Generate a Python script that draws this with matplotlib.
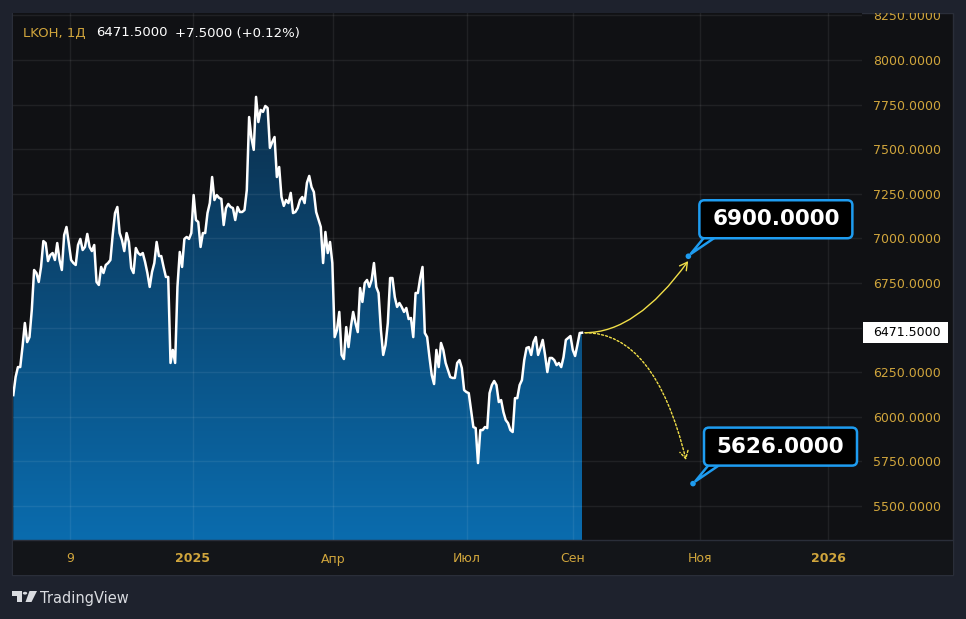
import numpy as np
import matplotlib
matplotlib.use('Agg')
import matplotlib.pyplot as plt
import matplotlib.transforms as mtransforms
from matplotlib.patches import FancyBboxPatch, FancyArrowPatch, Polygon, Rectangle, Circle
from matplotlib.lines import Line2D
from matplotlib.path import Path
from matplotlib.colors import LinearSegmentedColormap

# Дневные закрытия LKOH
prices = [
    6122, 6223, 6279, 6279, 6395, 6526, 6419, 6447, 6599, 6823,
    6806, 6756, 6840, 6985, 6974, 6873, 6907, 6918, 6879, 6974,
    6879, 6823, 7019, 7064, 6974, 6879, 6862, 6851, 6963, 6997,
    6935, 6952, 7025, 6952, 6929, 6963, 6756, 6739, 6840, 6806,
    6851, 6862, 6879, 7020, 7142, 7176, 7030, 6991, 6929, 7030,
    6980, 6834, 6806, 6946, 6918, 6907, 6918, 6868, 6806, 6728,
    6812, 6862, 6980, 6901, 6901, 6840, 6784, 6784, 6302, 6375,
    6302, 6728, 6924, 6840, 6997, 7008, 6997, 7030, 7243, 7103,
    7092, 6952, 7030, 7030, 7142, 7198, 7344, 7215, 7243, 7227,
    7221, 7075, 7170, 7193, 7176, 7170, 7103, 7176, 7148, 7148,
    7159, 7271, 7680, 7563, 7496, 7793, 7652, 7720, 7709, 7742,
    7731, 7507, 7540, 7568, 7344, 7400, 7232, 7182, 7215, 7198,
    7255, 7142, 7148, 7170, 7215, 7232, 7198, 7311, 7350, 7288,
    7260, 7148, 7105, 7064,
    6862, 7036, 6918, 6980, 6862, 6447, 6487, 6588, 6347, 6324,
    6503, 6391, 6503, 6588, 6526, 6475, 6722, 6644, 6750, 6767,
    6728, 6767, 6862, 6728, 6694, 6487, 6347, 6403, 6526, 6778,
    6778, 6672, 6616, 6638, 6616, 6588, 6610, 6548, 6554, 6447,
    6694, 6694, 6778, 6840, 6470, 6447, 6335, 6234, 6184, 6375,
    6279, 6414, 6375, 6302, 6262, 6223, 6218, 6218, 6302, 6318,
    6274, 6150, 6139, 6133, 6038, 5943, 5937, 5741, 5926, 5926,
    5943, 5937, 6133, 6178, 6201, 6178, 6083, 6094, 6027, 5982,
    5965, 5926, 5915, 6105, 6105, 6178, 6206, 6318, 6386, 6391,
    6347, 6419, 6447, 6347, 6386, 6431, 6347, 6251, 6330, 6330,
    6318, 6290, 6302, 6279, 6335, 6431, 6442, 6453, 6375, 6341,
    6403, 6470, 6471.5,
]
last_price = 6471.5
change = 7.5
change_pct = 0.12

# шкала времени (в барах)
tick_idx = [24.5, 77.7, 138.3, 196.3, 242.1, 297.0, 352.4]
tick_labels = ['9', '2025', 'Апр', 'Июл', 'Сен', 'Ноя', '2026']
year_labels = ['2025', '2026']
y_ticks = np.arange(5500, 8251, 250)

# прогноз: цели и через сколько баров
targets = [6900.0, 5626.0]
target_bars = [46, 48]

# цвета
BG_OUT = '#1e222d'
BG_CHART = '#101114'
BORDER = '#2a2e39'
GOLD = '#d0a53c'
BLUE = '#1e9cf0'
YELLOW = '#f0de48'

plt.rcParams['font.family'] = ['DejaVu Sans']

W, H = 966, 619
fig = plt.figure(figsize=(W / 100, H / 100), dpi=100)
fig.patch.set_facecolor(BG_OUT)


def fx(px):
    return px / W


def fy(py):
    return 1 - py / H


# панель графика
fig.patches.append(Rectangle((fx(12), fy(575)), fx(953) - fx(12), fy(13) - fy(575),
                             transform=fig.transFigure, facecolor=BG_CHART,
                             edgecolor=BORDER, lw=1, zorder=-10))
# полоса шкалы времени чуть светлее
fig.patches.append(Rectangle((fx(12.5), fy(574.5)), fx(952.5) - fx(12.5), fy(540) - fy(574.5),
                             transform=fig.transFigure, facecolor='#131519',
                             edgecolor='none', zorder=-9))

ax = fig.add_axes([fx(13), fy(540), fx(862) - fx(13), fy(13) - fy(540)])
ax.set_facecolor(BG_CHART)
for s in ax.spines.values():
    s.set_visible(False)

x = np.arange(len(prices))
last_idx = len(prices) - 1
ylo, yhi = 5310, 8263

# линия и градиентная заливка
ax.plot(x, prices, color='white', lw=1.8, zorder=4, solid_joinstyle='round')
poly = ax.fill_between(x, prices, ylo, facecolor='none', edgecolor='none')
grad = np.linspace(0, 1, 256).reshape(-1, 1)
cmap = LinearSegmentedColormap.from_list('area', ['#0a6cae', '#0c2f4c'])
img = ax.imshow(grad, cmap=cmap, aspect='auto', origin='lower',
                extent=[0, last_idx, ylo, max(prices)], zorder=2)
img.set_clip_path(poly.get_paths()[0], transform=ax.transData)

# сетка и оси
ax.grid(True, color='white', alpha=0.07, lw=1)
ax.set_axisbelow(False)
ax.yaxis.tick_right()
ax.set_yticks(y_ticks)
# метка 6500 закрыта плашкой текущей цены
ax.set_yticklabels(['' if abs(v - last_price) < 125 else f'{v:.4f}' for v in y_ticks])
ax.tick_params(axis='y', length=0, pad=8, labelsize=9, labelcolor=GOLD)
ax.set_xticks(tick_idx)
ax.set_xticklabels(tick_labels)
ax.tick_params(axis='x', length=0, pad=9, labelsize=9, labelcolor=GOLD)
for lab in ax.get_xticklabels():
    if lab.get_text() in year_labels:
        lab.set_fontweight('bold')

# метка последней цены на шкале
blend = mtransforms.blended_transform_factory(ax.transAxes, ax.transData)
t_last = fig.dpi_scale_trans + mtransforms.ScaledTranslation(1, last_price, blend)
ax.add_artist(Rectangle((0.01, -0.105), 0.85, 0.21, transform=t_last, facecolor='white',
                        edgecolor='none', clip_on=False, zorder=10))
ax.text(0.11, 0, f'{last_price:.4f}', transform=t_last, ha='left', va='center',
        fontsize=9, color='black', zorder=11)

# стрелки прогноза
start = (last_idx + 1.3, last_price)
arrow_ends = [(last_idx + 45.9, targets[0] - 27), (last_idx + 45.0, targets[1] + 132)]
ctrl_frac = [0.5, 0.69]
styles = ['-', (0, (1.5, 1.5))]
for end, cf, ls in zip(arrow_ends, ctrl_frac, styles):
    ctrl = (start[0] + cf * (end[0] - start[0]), start[1])
    path = Path([start, ctrl, end], [Path.MOVETO, Path.CURVE3, Path.CURVE3])
    arr = FancyArrowPatch(path=path, arrowstyle='->,head_length=0.45,head_width=0.25',
                          mutation_scale=12, color=YELLOW, lw=1.0, linestyle=ls, zorder=6)
    ax.add_patch(arr)

# выноски с целями
for h, tgt in zip(target_bars, targets):
    tr = fig.dpi_scale_trans + mtransforms.ScaledTranslation(last_idx + h, tgt, ax.transData)
    ax.add_artist(Polygon([(0.02, 0.02), (0.16, 0.19), (0.27, 0.19)], closed=True,
                          transform=tr, facecolor='black', edgecolor=BLUE, lw=1.8,
                          clip_on=False, zorder=8))
    ax.add_artist(FancyBboxPatch((0.11, 0.18), 1.53, 0.38,
                                 boxstyle='round,pad=0,rounding_size=0.05',
                                 transform=tr, facecolor='black', edgecolor=BLUE, lw=1.8,
                                 clip_on=False, zorder=9))
    ax.text(0.875, 0.37, f'{tgt:.4f}', transform=tr, ha='center', va='center',
            fontsize=15.5, fontweight='bold', color='white', zorder=10)
    ax.add_artist(Circle((0, 0), 0.028, transform=tr, facecolor=BLUE, edgecolor='none',
                         clip_on=False, zorder=10))

ax.set_xlim(-0.13, 367.1)
ax.set_ylim(ylo, yhi)

# разделитель шкалы времени и обрезка верхней метки
fig.add_artist(Line2D([fx(12), fx(953)], [fy(540), fy(540)], transform=fig.transFigure,
                      color=BORDER, lw=1))
fig.patches.append(Rectangle((0, fy(13)), 1, 1 - fy(13), transform=fig.transFigure,
                             facecolor=BG_OUT, edgecolor='none', zorder=5))

# заголовок
fig.text(fx(23), fy(33), 'LKOH, 1Д', color=GOLD, fontsize=9.5, va='center', ha='left')
fig.text(fx(96), fy(33), f'{last_price:.4f}', color='white', fontsize=9.5, va='center', ha='left')
fig.text(fx(175), fy(33), f'+{change:.4f} (+{change_pct:.2f}%)', color='white',
         fontsize=9.5, va='center', ha='left')

# логотип TradingView
logo_col = '#d9dbe0'
fig.patches.append(Polygon([(fx(12), fy(591)), (fx(21.5), fy(591)), (fx(21.5), fy(602)),
                            (fx(16.5), fy(602)), (fx(16.5), fy(595.5)), (fx(12), fy(595.5))],
                           closed=True, transform=fig.transFigure, facecolor=logo_col,
                           edgecolor='none', zorder=6))
fig.patches.append(Circle((fx(25), fy(593.2)), 2.2 / W, transform=fig.transFigure,
                          facecolor=logo_col, edgecolor='none', zorder=6))
fig.patches.append(Polygon([(fx(29.5), fy(591)), (fx(37), fy(591)), (fx(31.5), fy(602)),
                            (fx(25.5), fy(602))], closed=True, transform=fig.transFigure,
                           facecolor=logo_col, edgecolor='none', zorder=6))
fig.text(fx(40), fy(598), 'TradingView', color=logo_col, fontsize=10.5, va='center', ha='left')

fig.savefig('out.png', dpi=100, facecolor=fig.get_facecolor())
